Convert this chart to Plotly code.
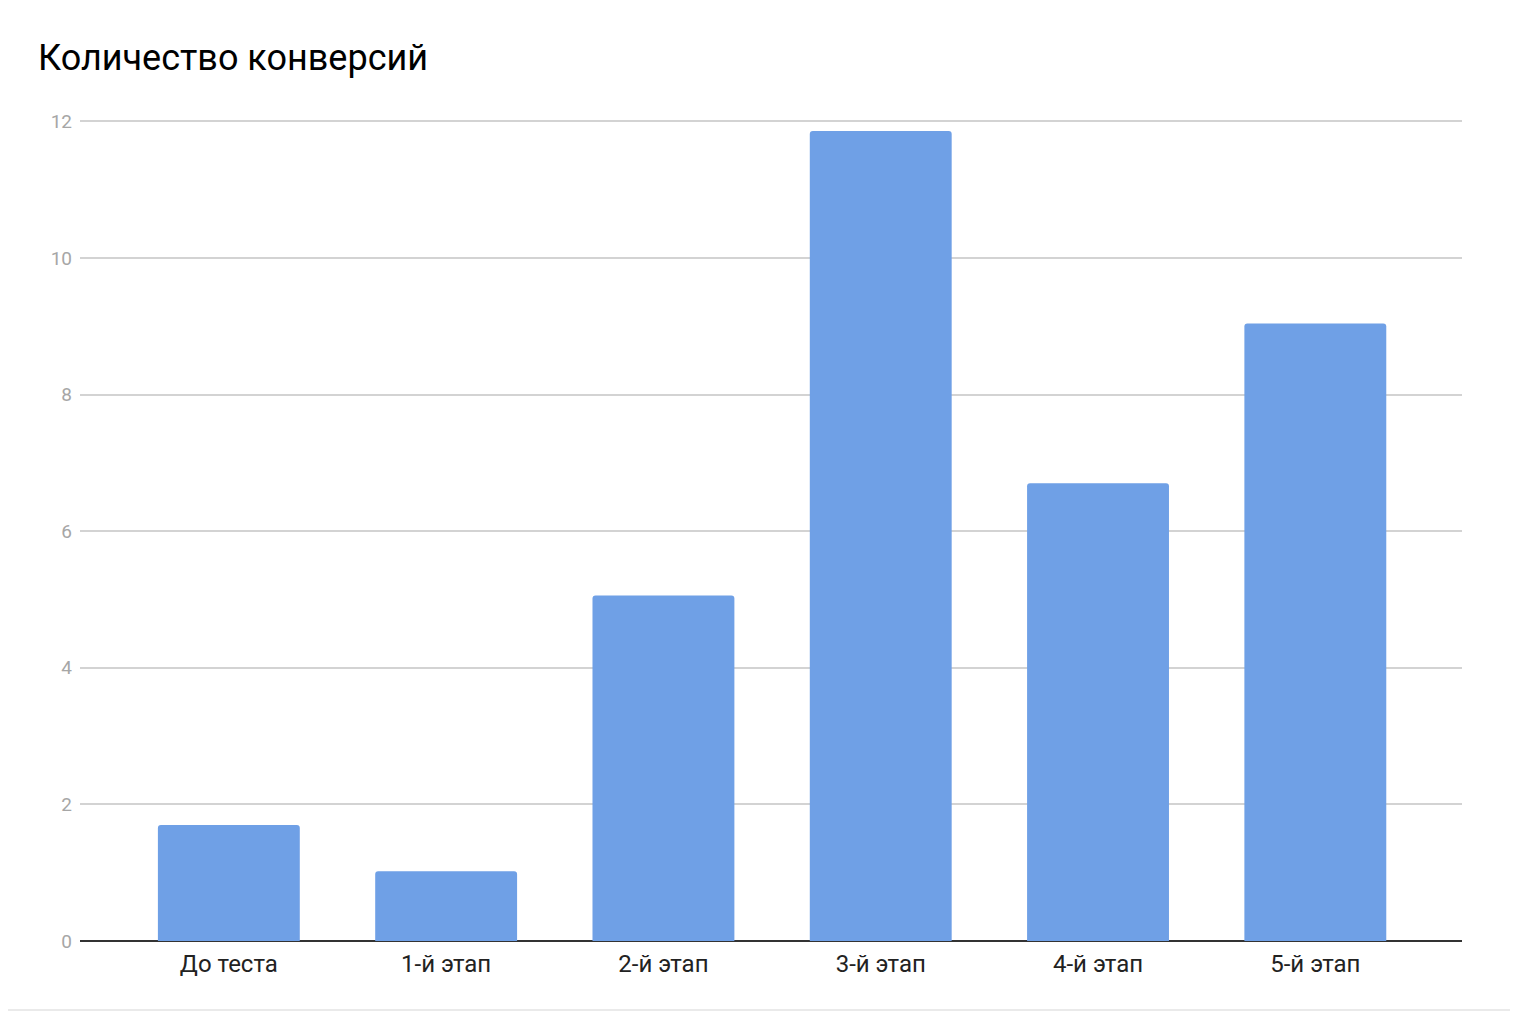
import plotly.graph_objects as go

stages = ['До теста', '1-й этап', '2-й этап', '3-й этап', '4-й этап', '5-й этап']
conversions = [1.7, 1.02, 5.06, 11.86, 6.7, 9.04]
y_ticks = [0, 2, 4, 6, 8, 10, 12]

fig = go.Figure(data=[go.Bar(
    x=stages,
    y=conversions,
    marker=dict(color='#6fa0e6', line=dict(width=0), cornerradius=3),
    width=0.653,
    hoverinfo='x+y'
)])

fig.update_layout(
    width=1502,
    height=1004,
    title=dict(
        text='Количество конверсий',
        x=30 / 1502, xanchor='left',
        y=1 - 49 / 1004, yanchor='middle',
        font=dict(family='Roboto, Arial, sans-serif', size=36, color='#000000')
    ),
    xaxis=dict(
        range=[-0.685, 5.675],
        showgrid=False,
        showline=False,
        ticks='',
        ticklabelstandoff=6,
        tickfont=dict(family='Roboto, Arial, sans-serif', size=24, color='#222222'),
        fixedrange=True
    ),
    yaxis=dict(
        range=[0, 12.02],
        tickvals=y_ticks,
        showgrid=True,
        gridcolor='#d3d3d3',
        gridwidth=1.5,
        zeroline=True,
        zerolinecolor='#333333',
        zerolinewidth=2,
        ticks='',
        ticklabelstandoff=7,
        tickfont=dict(family='Roboto, Arial, sans-serif', size=19, color='#a6a6a6')
    ),
    plot_bgcolor='white',
    paper_bgcolor='white',
    margin=dict(l=72, r=48, t=112, b=71),
    showlegend=False,
    shapes=[dict(type='line', xref='paper', yref='paper',
                 x0=-72 / 1382, x1=1 + 48 / 1382, y0=-69 / 821, y1=-69 / 821,
                 line=dict(color='#e3e3e3', width=1.5))]
)

fig.write_html("out.html")
